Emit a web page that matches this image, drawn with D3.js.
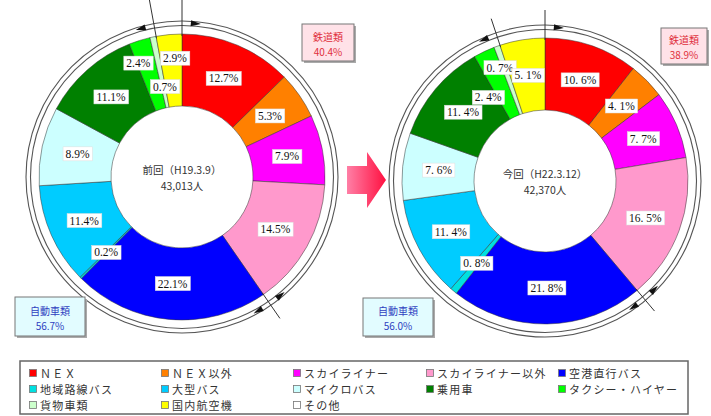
<!DOCTYPE html>
<html><head><meta charset="utf-8">
<script src="https://cdn.jsdelivr.net/npm/d3@7"></script>
<style>body{margin:0;background:#fff} svg{display:block}</style>
</head><body><svg id="c" width="711" height="416"></svg>
<script>
const categories = ["ＮＥＸ","ＮＥＸ以外","スカイライナー","スカイライナー以外","空港直行バス","地域路線バス","大型バス","マイクロバス","乗用車","タクシー・ハイヤー","貨物車類","国内航空機","その他"];
const colors = ["#ff0000","#ff8000","#ff00ff","#ff99cc","#0000ff","#00e0e0","#00ccff","#ccffff","#008000","#00ff00","#ccffcc","#ffff00","#ffffff"];
const prevValues = [12.7,5.3,7.9,14.5,22.1,0.2,11.4,8.9,11.1,2.4,0.7,2.9,0];
const currValues = [10.6,4.1,7.7,16.5,21.8,0.8,11.4,7.6,11.4,2.4,0.7,5.1,0];
const prevTitle = ["前回（H19.3.9）","43,013人"];
const currTitle = ["今回（H22.3.12）","42,370人"];
const groupNames = ["鉄道類","自動車類"];
const prevGroups = [40.4,56.7];
const currGroups = [38.9,56.0];

const svg = d3.select("#c");
const defs = svg.append("defs");
const grad = defs.append("linearGradient").attr("id","ag").attr("x1","0").attr("x2","1");
grad.append("stop").attr("offset","0").attr("stop-color","#ff7fa6");
grad.append("stop").attr("offset","1").attr("stop-color","#ff1040");

const R = 143, r0 = 71;
const charts = [
  {values: prevValues, title: prevTitle, groups: prevGroups, cx:182, cy:177, fmt: v => d3.format(".1f")(v)+"%",
   topEnd:180, botEnd:172, over:{9:{a:339,r:122},10:{a:349.3,r:92},11:{a:356.6,r:119}},
   railBox:[302,24,52,37], autoBox:[15,297,70,39]},
  {values: currValues, title: currTitle, groups: currGroups, cx:545, cy:181, fmt: v => d3.format(".1f")(v).replace(".",". ")+"%",
   topEnd:171, botEnd:170, over:{9:{a:325.8,r:101},10:{a:338.3,r:122}},
   railBox:[661,28,46,36], autoBox:[363,298,70,38]}
];

const pie = d3.pie().sort(null).value(d=>d);
const arc = d3.arc().innerRadius(r0).outerRadius(R);
const pt = (c, ang, rr) => [c.cx + rr*Math.sin(ang), c.cy - rr*Math.cos(ang)];

charts.forEach(c => {
  const g = svg.append("g");
  const arcs = pie(c.values);
  [151.5, 156].forEach(rr => g.append("circle").attr("cx",c.cx).attr("cy",c.cy).attr("r",rr)
     .attr("fill","none").attr("stroke","#555").attr("stroke-width",1.1));
  const pg = g.append("g").attr("transform",`translate(${c.cx},${c.cy})`);
  pg.selectAll("path").data(arcs.filter(d=>d.value>0)).join("path")
    .attr("d",arc).attr("fill",d=>colors[d.index]).attr("stroke","#333").attr("stroke-width",0.5);
  const railEnd = arcs[3].endAngle, autoEnd = arcs[10].endAngle;
  const lines = [[0,c.topEnd],[autoEnd,c.topEnd],[railEnd,c.botEnd]];
  lines.forEach(([a,e]) => {
    const p1 = pt(c,a,R-2), p2 = pt(c,a,e);
    g.append("line").attr("x1",p1[0]).attr("y1",p1[1]).attr("x2",p2[0]).attr("y2",p2[1])
      .attr("stroke","#333").attr("stroke-width",1);
  });
  const heads = [[0,1],[autoEnd,-1],[railEnd,-1],[railEnd,1]];
  heads.forEach(([a,dir]) => {
    const ang = a + dir*0.09;
    const p = pt(c,ang,154);
    const tx = Math.cos(ang)*dir, ty = Math.sin(ang)*dir;
    const nx = -ty, ny = tx;
    const L = 10, W = 3;
    const tip = [p[0]+tx*L/2, p[1]+ty*L/2];
    const b1 = [p[0]-tx*L/2+nx*W, p[1]-ty*L/2+ny*W];
    const b2 = [p[0]-tx*L/2-nx*W, p[1]-ty*L/2-ny*W];
    g.append("path").attr("d",`M${tip}L${b1}L${b2}Z`).attr("fill","#111");
  });
  arcs.forEach(d => {
    if (d.value <= 0) return;
    const o = c.over[d.index];
    const ang = o ? o.a*Math.PI/180 : (d.startAngle+d.endAngle)/2;
    const rr = o ? o.r : (R+r0)/2;
    const p = pt(c,ang,rr);
    const lg = g.append("g");
    const t = lg.append("text").attr("x",p[0]).attr("y",p[1]).attr("text-anchor","middle")
      .attr("dominant-baseline","central").attr("font-family","Liberation Serif, serif")
      .attr("font-size",11.5).attr("fill","#111").text(c.fmt(d.value));
    const bb = t.node().getBBox();
    lg.insert("rect","text").attr("x",bb.x-2.5).attr("y",bb.y-1).attr("width",bb.width+5).attr("height",bb.height+2)
      .attr("fill","#fff").attr("stroke","#ddd").attr("stroke-width",0.5);
  });
  c.title.forEach((s,i) => g.append("text").attr("x",c.cx).attr("y",c.cy-3+i*16).attr("text-anchor","middle")
     .attr("font-family","Noto Sans CJK JP, sans-serif").attr("font-size",10.5).attr("fill","#333").text(s));
  const boxes = [[c.railBox,"#ffe2e8","#e0303c",groupNames[0],c.groups[0]],[c.autoBox,"#e2fcff","#2f3fbf",groupNames[1],c.groups[1]]];
  boxes.forEach(([b,fill,tc,name,v]) => {
    g.append("rect").attr("x",b[0]+2).attr("y",b[1]+2).attr("width",b[2]).attr("height",b[3]).attr("fill","#aaa");
    g.append("rect").attr("x",b[0]).attr("y",b[1]).attr("width",b[2]).attr("height",b[3]).attr("fill",fill)
      .attr("stroke","#777").attr("stroke-width",1);
    g.append("text").attr("x",b[0]+b[2]/2).attr("y",b[1]+b[3]/2-2).attr("text-anchor","middle")
      .attr("font-family","Noto Sans CJK JP, sans-serif").attr("font-size",10).attr("fill",tc).text(name);
    g.append("text").attr("x",b[0]+b[2]/2).attr("y",b[1]+b[3]/2+13).attr("text-anchor","middle")
      .attr("font-family","Noto Sans CJK JP, sans-serif").attr("font-size",10).attr("fill",tc).text(d3.format(".1f")(v)+"%");
  });
});

svg.append("path").attr("d","M347,166L367,166L367,152L386,180L367,208L367,194L347,194Z").attr("fill","url(#ag)");

svg.append("rect").attr("x",20).attr("y",361).attr("width",668).attr("height",53)
  .attr("fill","#fff").attr("stroke","#666").attr("stroke-width",1.5);
const colX = [33,165,297,430,562];
categories.forEach((name,i) => {
  const col = i%5, row = Math.floor(i/5);
  const x = colX[col], y = 373 + row*16;
  svg.append("rect").attr("x",x-3.5).attr("y",y-3.5).attr("width",7).attr("height",7)
    .attr("fill",colors[i]).attr("stroke","#777").attr("stroke-width",0.8);
  svg.append("text").attr("x",x+7).attr("y",y).attr("dominant-baseline","central")
    .attr("font-family","Noto Sans CJK JP, sans-serif").attr("font-size",11).attr("letter-spacing",1.2)
    .attr("fill","#333").text(name);
});
</script></body></html>
